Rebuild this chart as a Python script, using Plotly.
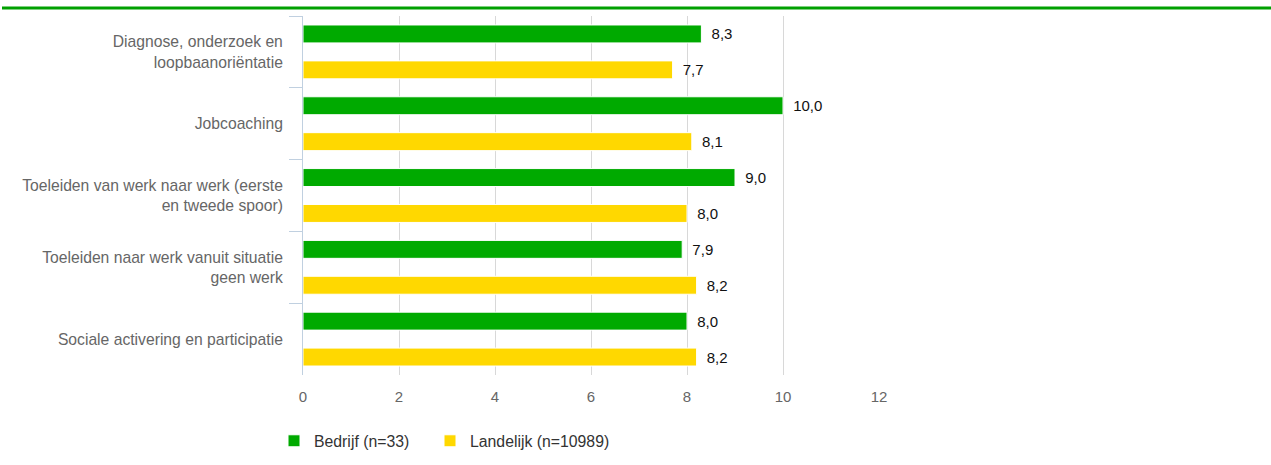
import plotly.graph_objects as go

categories = [
    "Diagnose, onderzoek en<br>loopbaanoriëntatie",
    "Jobcoaching",
    "Toeleiden van werk naar werk (eerste<br>en tweede spoor)",
    "Toeleiden naar werk vanuit situatie<br>geen werk",
    "Sociale activering en participatie",
]
bedrijf = [8.3, 10.0, 9.0, 7.9, 8.0]
landelijk = [7.7, 8.1, 8.0, 8.2, 8.2]
series_names = ["Bedrijf (n=33)", "Landelijk (n=10989)"]
x_ticks = [0, 2, 4, 6, 8, 10, 12]

GREEN = "#00AA00"
YELLOW = "#FFD800"
FONT = "Liberation Sans, Arial, sans-serif"

W, H = 1271, 465
L, R, T, B = 303, 1271 - 879, 16, 465 - 375
pw = W - L - R
ph = H - T - B

fig = go.Figure()
specs = [
    (series_names[0], bedrijf, GREEN, "legend"),
    (series_names[1], landelijk, YELLOW, "legend2"),
]
for name, vals, col, leg in specs:
    fig.add_trace(go.Bar(
        y=categories, x=vals, name=name, orientation="h",
        marker=dict(color=col, line=dict(color="#FFFFFF", width=1)),
        texttemplate="\u00a0\u2009%{x:.1f}", textposition="outside",
        textfont=dict(family=FONT, size=15, color="#111111"),
        cliponaxis=False, legend=leg,
    ))

leg_common = dict(
    orientation="h", xanchor="left",
    y=(375 - 441) / ph, yanchor="middle",
    font=dict(family=FONT, size=15.8, color="#333333"),
    bgcolor="rgba(0,0,0,0)",
)

fig.update_layout(
    width=W, height=H,
    margin=dict(l=L, r=R, t=T, b=B, autoexpand=False),
    paper_bgcolor="white", plot_bgcolor="white",
    separators=", ",
    barmode="group", bargap=0.0, bargroupgap=0.5,
    font=dict(family=FONT, size=15, color="#666666"),
    showlegend=True,
    legend=dict(x=(274 - L) / pw, **leg_common),
    legend2=dict(x=(430 - L) / pw, **leg_common),
    xaxis=dict(
        range=[0, 12], tickvals=x_ticks, ticktext=[str(v) for v in x_ticks],
        showgrid=True, gridcolor="#D8D8D8", gridwidth=1,
        zeroline=False, showline=False, ticks="",
        tickfont=dict(family=FONT, size=15, color="#666666"),
        ticklabelstandoff=11, automargin=False,
    ),
    yaxis=dict(
        type="category", autorange="reversed",
        tickson="boundaries", ticks="outside", ticklen=13, tickcolor="#C0D0E0",
        showline=True, linecolor="#C0D0E0", linewidth=1,
        showgrid=False, zeroline=False,
        tickfont=dict(family=FONT, size=15.7, color="#666666"),
        ticklabelstandoff=16, automargin=False,
    ),
    shapes=[dict(
        type="line", xref="paper", yref="paper",
        x0=(2 - L) / pw, x1=(W - L) / pw,
        y0=(375 - 8) / ph, y1=(375 - 8) / ph,
        line=dict(color="#00A000", width=3),
    )],
)

fig.write_html(
    "out.html",
    config={"displayModeBar": False},
    post_script="document.body.style.margin='0';document.body.style.overflow='hidden';",
)
